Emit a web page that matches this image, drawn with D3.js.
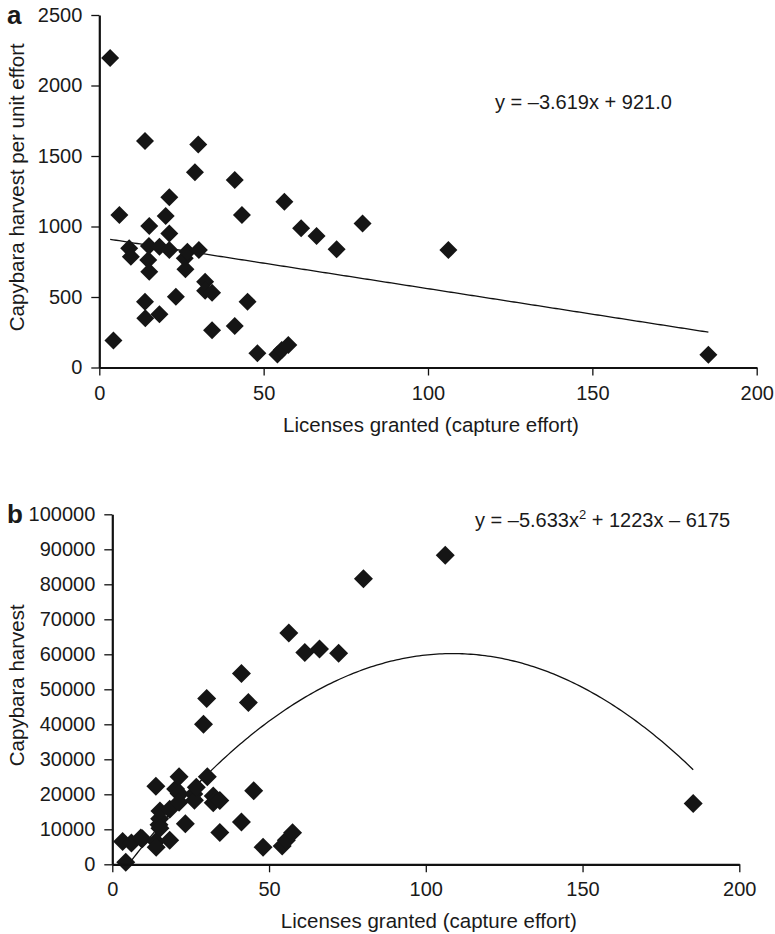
<!DOCTYPE html>
<html>
<head>
<meta charset="utf-8">
<script src="https://cdn.jsdelivr.net/npm/d3@7"></script>
<style>
  html, body { margin: 0; padding: 0; background: #fff; }
  svg { display: block; }
  text { font-family: "Liberation Sans", Arial, Helvetica, sans-serif; fill: #1a1a1a; }
</style>
</head>
<body>
<svg id="chart" width="775" height="934"></svg>
<script>
// Licenses granted (capture effort) per season
const effort = [3.3, 4.3, 6.1, 9.1, 9.6, 13.9, 13.9, 14.0, 14.9, 15.1, 15.2, 15.2,
  18.3, 18.3, 20.2, 21.3, 21.3, 21.3, 23.3, 26.0, 26.2, 26.8, 29.1, 30.1, 30.3,
  32.2, 32.2, 34.3, 34.3, 41.2, 41.2, 43.4, 45.1, 48.1, 54.2, 55.5, 57.5, 56.3,
  61.4, 66.1, 72.2, 80.1, 106.2, 185.3];

// Capybara harvest per unit effort (panel a)
const harvestPerEffort = [2195, 192, 1081, 845, 786, 1606, 467, 349, 762, 861, 1003, 679,
  856, 377, 1074, 1207, 951, 833, 502, 774, 697, 821, 1384, 1582, 833,
  608, 545, 530, 264, 1329, 294, 1081, 467, 101, 93, 124, 160, 1176,
  987, 932, 838, 1022, 833, 90];

// Capybara harvest (panel b)
const harvest = [6500, 600, 6100, 7500, 7300, 22300, 6500, 4900, 11300, 13000, 15200, 10300,
  15700, 6900, 21500, 25000, 20200, 17700, 11600, 20100, 18300, 22000, 40000, 47400, 25000,
  19500, 17600, 18200, 9100, 54500, 12100, 46200, 21000, 4900, 5200, 6900, 9000, 66100,
  60500, 61500, 60300, 81600, 88300, 17400];

// Fitted trend coefficients
const linearFit = [-3.619, 921.0];          // slope, intercept
const quadraticFit = [-5.633, 1223, -6175]; // a, b, c

const xTicks = [0, 50, 100, 150, 200];
const yTicksA = [0, 500, 1000, 1500, 2000, 2500];
const yTicksB = [0, 10000, 20000, 30000, 40000, 50000, 60000, 70000, 80000, 90000, 100000];

const svg = d3.select("#chart");
const FONT = 20;
const INK = "#151515";

function diamond(r) {
  return `M0,${-r}L${r},0L0,${r}L${-r},0Z`;
}

function drawPanel(opts) {
  const g = svg.append("g");
  const x = d3.scaleLinear().domain([0, 200]).range([opts.left, opts.right]);
  const y = d3.scaleLinear().domain([0, opts.yMax]).range([opts.bottom, opts.top]);

  const clipId = "clip-" + opts.id;
  svg.append("defs").append("clipPath").attr("id", clipId)
    .append("rect")
    .attr("x", opts.left).attr("y", opts.top)
    .attr("width", opts.right - opts.left).attr("height", opts.bottom - opts.top);

  // trend line
  const xs = d3.extent(effort);
  const pts = d3.range(0, 201).map(i => xs[0] + (xs[1] - xs[0]) * i / 200);
  g.append("path")
    .attr("clip-path", `url(#${clipId})`)
    .attr("fill", "none")
    .attr("stroke", "#111")
    .attr("stroke-width", 1.3)
    .attr("d", d3.line().x(d => x(d)).y(d => y(opts.fit(d)))(pts));

  // points
  g.append("g").selectAll("path")
    .data(effort.map((e, i) => [e, opts.values[i]]))
    .join("path")
    .attr("transform", d => `translate(${x(d[0])},${y(d[1])})`)
    .attr("d", diamond(opts.r))
    .attr("fill", INK);

  // axes
  const xAxis = g.append("g")
    .attr("transform", `translate(0,${opts.bottom})`)
    .call(d3.axisBottom(x).tickValues(xTicks).tickSize(8).tickSizeOuter(0).tickPadding(10).tickFormat(d3.format("d")));
  const yAxis = g.append("g")
    .attr("transform", `translate(${opts.left},0)`)
    .call(d3.axisLeft(y).tickValues(opts.yTicks).tickSize(8).tickSizeOuter(0).tickPadding(9).tickFormat(d3.format("d")));

  [xAxis, yAxis].forEach(ax => {
    ax.select(".domain").attr("stroke", "#111").attr("stroke-width", 2.2);
    ax.selectAll(".tick line").attr("stroke", "#111").attr("stroke-width", 1.3);
    ax.selectAll(".tick text").attr("font-size", FONT)
      .attr("font-family", "Liberation Sans, Arial, sans-serif").attr("fill", "#1a1a1a");
  });

  // axis titles
  g.append("text")
    .attr("x", (opts.left + opts.right) / 2 + 3)
    .attr("y", opts.bottom + 64)
    .attr("text-anchor", "middle")
    .attr("font-size", FONT + 0.5)
    .text("Licenses granted (capture effort)");

  g.append("text")
    .attr("transform", `translate(24,${(opts.top + opts.bottom) / 2 - 4}) rotate(-90)`)
    .attr("text-anchor", "middle")
    .attr("font-size", FONT + 0.5)
    .text(opts.yTitle);

  // panel letter
  g.append("text")
    .attr("x", 7).attr("y", opts.top + 9)
    .attr("font-size", 26).attr("font-weight", "bold")
    .text(opts.id);

  opts.equation(g);
}

drawPanel({
  id: "a",
  left: 99.3, right: 756.7, top: 15, bottom: 367.5,
  yMax: 2500, yTicks: yTicksA,
  values: harvestPerEffort,
  r: 9,
  fit: v => linearFit[0] * v + linearFit[1],
  yTitle: "Capybara harvest per unit effort",
  equation: g => {
    g.append("text")
      .attr("x", 495).attr("y", 109)
      .attr("font-size", FONT)
      .text(`y = \u2013${Math.abs(linearFit[0]).toFixed(3)}x + ${linearFit[1].toFixed(1)}`);
  }
});

drawPanel({
  id: "b",
  left: 112.3, right: 739.3, top: 514.3, bottom: 864.3,
  yMax: 100000, yTicks: yTicksB,
  values: harvest,
  r: 9.5,
  fit: v => quadraticFit[0] * v * v + quadraticFit[1] * v + quadraticFit[2],
  yTitle: "Capybara harvest",
  equation: g => {
    const t = g.append("text")
      .attr("x", 475).attr("y", 527)
      .attr("font-size", FONT);
    t.append("tspan").text(`y = \u2013${Math.abs(quadraticFit[0]).toFixed(3)}x`);
    t.append("tspan").attr("dy", -8).attr("font-size", 13).text("2");
    t.append("tspan").attr("dy", 8).text(` + ${quadraticFit[1]}x \u2013 ${Math.abs(quadraticFit[2])}`);
  }
});
</script>
</body>
</html>
